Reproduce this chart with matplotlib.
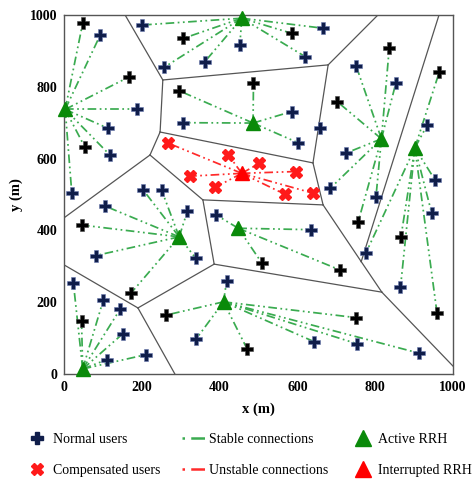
import matplotlib
matplotlib.use('Agg')
import matplotlib.pyplot as plt
from matplotlib.lines import Line2D

plt.rcParams['font.family'] = ['Liberation Serif', 'DejaVu Serif']

# RRH positions (m)
rrh_x = [457, 3, 486, 816, 902, 457, 296, 448, 410, 48]
rrh_y = [991, 737, 699, 655, 630, 559, 382, 406, 201, 14]
interrupted = 5  # index of the failed RRH

# users: position, serving RRH (-1 = none), dark marker flag
user_x = [200, 307, 452, 362, 257, 667, 585, 620,
          48, 93, 168, 188, 114, 54, 118, 20,
          487, 296, 307, 585, 602,
          751, 836, 853, 703, 724, 684, 756, 802,
          934, 965, 954, 945, 866, 865, 959, 776,
          204, 251, 105, 317, 45, 82, 339, 172,
          391, 634, 508, 709,
          418, 262, 340, 471, 751, 643, 754, 913,
          24, 101, 144, 45, 151, 110, 211,
          658]
user_y = [972, 935, 916, 870, 854, 963, 949, 884,
          977, 944, 828, 737, 684, 631, 610, 504,
          811, 789, 700, 731, 644,
          858, 907, 810, 758, 615, 517, 423, 494,
          694, 842, 540, 449, 381, 242, 169, 337,
          512, 512, 468, 453, 415, 330, 322, 225,
          443, 402, 310, 290,
          259, 164, 98, 69, 157, 90, 84, 58,
          254, 206, 180, 148, 112, 40, 54,
          684]
user_rrh = [0] * 8 + [1] * 8 + [2] * 5 + [3] * 8 + [4] * 8 + [6] * 8 + [7] * 4 + [8] * 8 + [9] * 7 + [-1]
user_dark = [0, 1, 0, 0, 0, 0, 1, 0,
             1, 0, 1, 0, 0, 1, 0, 0,
             1, 1, 0, 0, 0,
             0, 1, 0, 1, 0, 0, 1, 0,
             0, 1, 0, 0, 1, 0, 1, 0,
             0, 0, 0, 0, 1, 0, 0, 1,
             0, 0, 1, 1,
             0, 1, 0, 1, 1, 0, 0, 0,
             0, 0, 0, 1, 0, 0, 0,
             0]

# compensated users around the interrupted RRH
comp_x = [268, 422, 502, 597, 324, 389, 567, 639]
comp_y = [643, 611, 587, 564, 551, 520, 501, 504]

# cell boundaries
cell_pts = {'T1': (157, 1000), 'A': (254, 819), 'B': (679, 861), 'T2': (807, 1000),
            'C': (640, 588), 'D': (247, 674), 'E': (221, 610), 'L1': (0, 435),
            'J': (357, 485), 'F': (666, 471), 'I': (386, 306), 'H': (190, 184),
            'L2': (0, 304), 'B1': (285, 0), 'G': (817, 228), 'K': (764, 313),
            'T3': (964, 1000), 'BR': (1000, 22)}
cell_edges = [('T1', 'A'), ('A', 'B'), ('B', 'T2'), ('B', 'C'), ('A', 'D'), ('D', 'C'),
              ('D', 'E'), ('E', 'L1'), ('E', 'J'), ('J', 'F'), ('C', 'F'), ('J', 'I'),
              ('I', 'H'), ('H', 'L2'), ('H', 'B1'), ('I', 'G'), ('F', 'K'), ('K', 'G'),
              ('K', 'T3'), ('G', 'BR')]

green_line = '#3aab50'
red_line = '#ff2a2a'
navy = '#0f1d4a'
ls_conn = (0, (5, 2, 1, 2, 1, 2))

fig = plt.figure(figsize=(4.76, 4.79), dpi=100)
ax = fig.add_axes([0.1345, 0.2192, 0.8172, 0.7495])

for a, b in cell_edges:
    ax.plot([cell_pts[a][0], cell_pts[b][0]], [cell_pts[a][1], cell_pts[b][1]],
            color='#555555', lw=0.9, zorder=1)

for ux, uy, r in zip(user_x, user_y, user_rrh):
    if r < 0:
        continue
    ax.plot([rrh_x[r], ux], [rrh_y[r], uy], color=green_line, lw=1.25,
            linestyle=ls_conn, zorder=2)
for cx, cy in zip(comp_x, comp_y):
    ax.plot([rrh_x[interrupted], cx], [rrh_y[interrupted], cy], color=red_line, lw=1.25,
            linestyle=ls_conn, zorder=2)

for ux, uy, d in zip(user_x, user_y, user_dark):
    ax.plot(ux, uy, marker='P', ms=8, color='black' if d else navy,
            mec='#6b7bb0' if not d else '#444444', mew=0.4, zorder=4)
ax.plot(comp_x, comp_y, 'X', ms=8, color='#ff1a1a', mec='#ff1a1a', zorder=4, lw=0)

for i, (rx, ry) in enumerate(zip(rrh_x, rrh_y)):
    ax.plot(rx, ry, '^', ms=10, color='red' if i == interrupted else '#0a8a0a',
            zorder=5, clip_on=False)

ax.set_xlim(0, 1000)
ax.set_ylim(0, 1000)
ax.set_xticks(range(0, 1001, 200))
ax.set_yticks(range(0, 1001, 200))
ax.tick_params(length=0, labelsize=10, pad=5)
for lab in ax.get_xticklabels() + ax.get_yticklabels():
    lab.set_fontweight('bold')
for s in ax.spines.values():
    s.set_color('#555555')
    s.set_linewidth(1.0)
ax.set_xlabel('x (m)', fontsize=10.5, fontweight='bold', labelpad=6)
ax.set_ylabel('y (m)', fontsize=10.5, fontweight='bold', labelpad=5)

leg_ls = (0, (1.0, 2.5, 5.5, 20))
handles = [
    Line2D([], [], marker='P', ms=9, color=navy, lw=0),
    Line2D([], [], marker='X', ms=9, color='#ff1a1a', lw=0),
    Line2D([], [], color=green_line, lw=1.8, linestyle=leg_ls),
    Line2D([], [], color=red_line, lw=1.8, linestyle=leg_ls),
    Line2D([], [], marker='^', ms=11, color='#0a8a0a', lw=0),
    Line2D([], [], marker='^', ms=11, color='red', lw=0),
]
labels = ['Normal users', 'Compensated users', 'Stable connections',
          'Unstable connections', 'Active RRH', 'Interrupted RRH']
fig.legend(handles, labels, ncol=3, loc='upper left', bbox_to_anchor=(0.026, 0.122),
           frameon=False, fontsize=10, handlelength=1.8, handletextpad=0.2,
           columnspacing=1.55, labelspacing=1.3)

fig.savefig('out.png', dpi=100)
